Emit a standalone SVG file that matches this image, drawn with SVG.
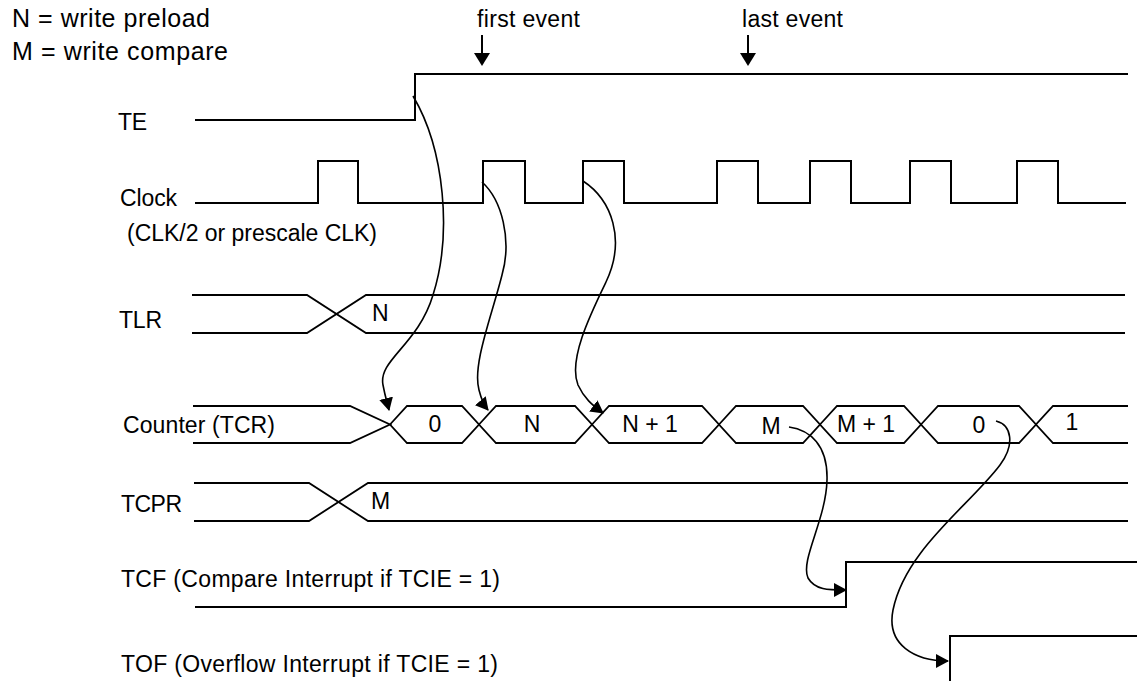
<svg xmlns="http://www.w3.org/2000/svg" width="1137" height="681" viewBox="0 0 1137 681">
<style>
text{font-family:"Liberation Sans",Arial,sans-serif;font-size:23px;fill:#000}
.lg{font-size:25px}
.sig{fill:none;stroke:#000;stroke-width:2}
.bus{fill:none;stroke:#000;stroke-width:1.8;stroke-linejoin:miter}
.cv{fill:none;stroke:#000;stroke-width:1.6}
.mid{text-anchor:middle}
</style>
<defs>
<marker id="ah" viewBox="0 0 13 14" refX="12" refY="7" markerWidth="13" markerHeight="14" markerUnits="userSpaceOnUse" orient="auto">
<path d="M0,0 L13,7 L0,14 Z" fill="#000"/>
</marker>
</defs>
<rect width="1137" height="681" fill="#fff"/>

<g id="legend">
<text class="lg" x="12" y="27" textLength="198">N = write preload</text>
<text class="lg" x="12" y="60" textLength="216">M = write compare</text>
</g>

<g id="events">
<text x="477" y="27" textLength="103">first event</text>
<line x1="482" y1="35" x2="482" y2="54" stroke="#000" stroke-width="2"/>
<polygon points="474,53 490,53 482,66" fill="#000"/>
<text x="742" y="27" textLength="101">last event</text>
<line x1="748" y1="35" x2="748" y2="54" stroke="#000" stroke-width="2"/>
<polygon points="740,53 756,53 748,66" fill="#000"/>
</g>

<g id="TE">
<text x="118" y="130" textLength="29">TE</text>
<path class="sig" d="M195,120 H415 V74 H1128"/>
</g>

<g id="Clock">
<text x="120" y="206" textLength="57">Clock</text>
<text x="127" y="241" textLength="250">(CLK/2 or prescale CLK)</text>
<path class="sig" d="M195,203 H318 V161 H358 V203 H483 V161 H525 V203 H583 V161 H624 V203 H717 V161 H758 V203 H810 V161 H851 V203 H910 V161 H951 V203 H1017 V161 H1058 V203 H1126"/>
</g>

<g id="TLR">
<text x="119" y="328" textLength="43">TLR</text>
<path class="bus" d="M192,295 H307 L366,333 H1125"/>
<path class="bus" d="M192,333 H307 L366,295 H1125"/>
<text x="372" y="321">N</text>
</g>

<g id="Counter">
<text x="123" y="433" textLength="152">Counter (TCR)</text>
<path class="bus" d="M193,406 H350 L390,424.5 L350,443 H193"/>
<path class="bus" d="M390,424.5 L407,406 H462 L479,424.5 L462,443 H407 Z"/>
<path class="bus" d="M479,424.5 L496,406 H575 L592,424.5 L575,443 H496 Z"/>
<path class="bus" d="M592,424.5 L609,406 H702 L719,424.5 L702,443 H609 Z"/>
<path class="bus" d="M719,424.5 L736,406 H803 L820,424.5 L803,443 H736 Z"/>
<path class="bus" d="M820,424.5 L837,406 H904 L921,424.5 L904,443 H837 Z"/>
<path class="bus" d="M921,424.5 L938,406 H1019 L1036,424.5 L1019,443 H938 Z"/>
<path class="bus" d="M1128,406 H1053 L1036,424.5 L1053,443 H1128"/>
<text class="mid" x="435" y="432">0</text>
<text class="mid" x="532" y="432">N</text>
<text class="mid" x="650" y="432">N + 1</text>
<text class="mid" x="771" y="434">M</text>
<text class="mid" x="866" y="432">M + 1</text>
<text class="mid" x="979" y="433">0</text>
<text class="mid" x="1072" y="430">1</text>
</g>

<g id="TCPR">
<text x="121" y="512" textLength="61">TCPR</text>
<path class="bus" d="M194,483 H309 L368,521 H1128"/>
<path class="bus" d="M194,521 H309 L368,483 H1128"/>
<text x="371" y="509">M</text>
</g>

<g id="TCF">
<text x="121" y="587" textLength="379">TCF (Compare Interrupt if TCIE = 1)</text>
<path class="sig" d="M195,607 H846 V562 H1137"/>
</g>

<g id="TOF">
<text x="121" y="672" textLength="377">TOF (Overflow Interrupt if TCIE = 1)</text>
<path class="sig" d="M950,681 V636 H1137"/>
</g>

<g id="connectors">
<path class="cv" marker-end="url(#ah)" d="M413,96 C445,150 452,235 433,295 C418,345 378,360 383,385 C385,396 387,402 389,410"/>
<path class="cv" marker-end="url(#ah)" d="M482,182 C502,200 512,240 502,275 C492,315 472,365 479,390 C481,398 483,404 488,410"/>
<path class="cv" marker-end="url(#ah)" d="M583,181 C612,200 626,240 606,282 C590,315 568,360 578,385 C584,398 592,405 603,413"/>
<path class="cv" marker-end="url(#ah)" d="M789,427 C810,430 828,445 827,480 C826,520 800,560 808,578 C815,590 828,590 846,590"/>
<path class="cv" marker-end="url(#ah)" d="M996,421 C1012,425 1015,445 1000,465 C970,505 905,550 893,610 C886,645 915,661 948,661"/>
</g>
</svg>
